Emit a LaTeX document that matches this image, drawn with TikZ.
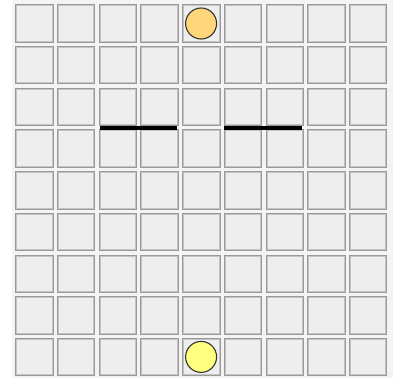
\documentclass[tikz,border=0pt]{standalone}
\definecolor{bgpanel}{HTML}{F4F4F4}
\definecolor{cellfill}{HTML}{EEEEEE}
\definecolor{cellouter}{HTML}{999999}
\definecolor{cellinner}{HTML}{C4C4C4}
\definecolor{orangetok}{HTML}{FFD77A}
\definecolor{yellowtok}{HTML}{FFFF80}
\tikzset{
  cellbox/.style={fill=cellfill},
  wall/.style={line width=4pt, black},
  token/.style={circle, draw=black!80, line width=1.1pt, minimum size=31pt, inner sep=0pt}
}
\begin{document}
\begin{tikzpicture}[x=1pt,y=-1pt]
\useasboundingbox (0,0) rectangle (393,378);
\fill[white] (0,0) rectangle (393,378);
\fill[bgpanel] (12,0) rectangle (393,378);
\foreach \i in {0,...,8}{
  \foreach \j in {0,...,8}{
    \pgfmathsetmacro{\xl}{15.3+\i*41.7}
    \pgfmathsetmacro{\yt}{4.3+\j*41.7}
    \fill[cellfill] (\xl,\yt) rectangle ++(38.4,38.4);
    \draw[cellouter, line width=1pt] (\xl+0.5,\yt+0.5) rectangle ++(37.4,37.4);
    \draw[cellinner, line width=1pt] (\xl+1.5,\yt+1.5) rectangle ++(35.4,35.4);
  }
}
\coordinate (w1a) at (100,127.7);
\coordinate (w1b) at (177.3,127.7);
\coordinate (w2a) at (224,127.7);
\coordinate (w2b) at (302.3,127.7);
\draw[wall] (w1a) -- (w1b);
\draw[wall] (w2a) -- (w2b);
\node[token, fill=orangetok] (top) at (201.1,23.5) {};
\node[token, fill=yellowtok] (bottom) at (201.1,356.9) {};
\end{tikzpicture}
\end{document}
